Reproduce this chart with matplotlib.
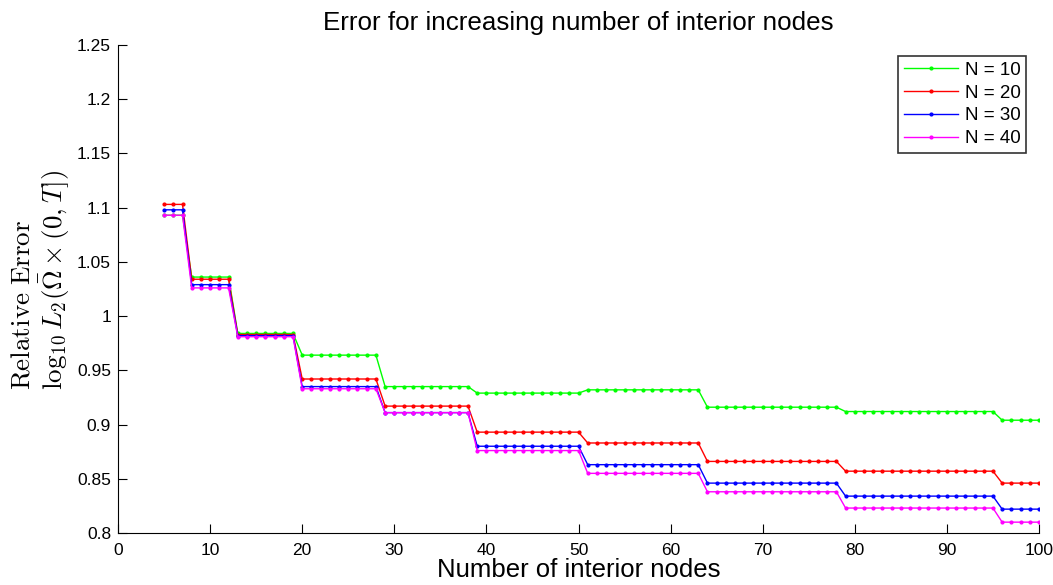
import numpy as np
import matplotlib
matplotlib.use('Agg')
import matplotlib.pyplot as plt

plt.rcParams['font.family'] = ['Liberation Sans', 'DejaVu Sans']
plt.rcParams['mathtext.fontset'] = 'cm'

# interior node counts, and where each error plateau starts
nodes = np.arange(5, 101)
step_starts = [5, 8, 13, 20, 29, 39, 51, 64, 79, 96]

# error level on each plateau
err_n10 = [1.093, 1.036, 0.984, 0.964, 0.935, 0.929, 0.932, 0.916, 0.912, 0.904]
err_n20 = [1.103, 1.034, 0.983, 0.942, 0.917, 0.893, 0.883, 0.866, 0.857, 0.846]
err_n30 = [1.098, 1.029, 0.982, 0.935, 0.911, 0.880, 0.863, 0.846, 0.834, 0.822]
err_n40 = [1.093, 1.026, 0.981, 0.933, 0.911, 0.876, 0.855, 0.838, 0.823, 0.810]

labels = ['N = 10', 'N = 20', 'N = 30', 'N = 40']
colours = ['#00ff00', '#ff0000', '#0000ff', '#ff00ff']

# how many nodes fall on each plateau
seg_len = np.diff(step_starts + [nodes[-1] + 1])

fig = plt.figure(figsize=(10.53, 5.85), dpi=100)
ax = fig.add_axes([0.1121, 0.0889, 0.8746, 0.8342])

for lev, lab, c in zip([err_n10, err_n20, err_n30, err_n40], labels, colours):
    ax.plot(nodes, np.repeat(lev, seg_len), '.-', color=c, lw=1.0, ms=4, label=lab)

ax.set_xlim(0, 100)
ax.set_ylim(0.8, 1.25)
ax.set_xticks(np.arange(0, 101, 10))
ax.set_yticks(np.arange(0.8, 1.2501, 0.05))
ax.set_yticklabels(['0.8', '0.85', '0.9', '0.95', '1', '1.05', '1.1', '1.15', '1.2', '1.25'])
ax.tick_params(direction='in', length=6.5, labelsize=12.5, top=False, right=False)
ax.tick_params(axis='x', pad=7)
ax.tick_params(axis='y', pad=5)
ax.spines['top'].set_visible(False)
ax.spines['right'].set_visible(False)

ax.set_title('Error for increasing number of interior nodes', fontsize=18.7, pad=11)
ax.set_xlabel('Number of interior nodes', fontsize=18.5, labelpad=0)
ax.set_ylabel('$\\mathrm{Relative\\ Error}$\n$\\log_{10}L_2(\\bar{\\Omega}\\times(0,T])$',
              fontsize=19.5, multialignment='left', linespacing=1.08)
ax.yaxis.set_label_coords(-0.05, 0.518)

leg = ax.legend(loc='upper right', fontsize=13.5, fancybox=False, edgecolor='black',
                borderaxespad=0.0, bbox_to_anchor=(0.986, 0.977), handlelength=2.9,
                handletextpad=0.35, labelspacing=0.3, borderpad=0.3)
leg.get_frame().set_linewidth(1.2)

fig.savefig('out.png', dpi=100)
